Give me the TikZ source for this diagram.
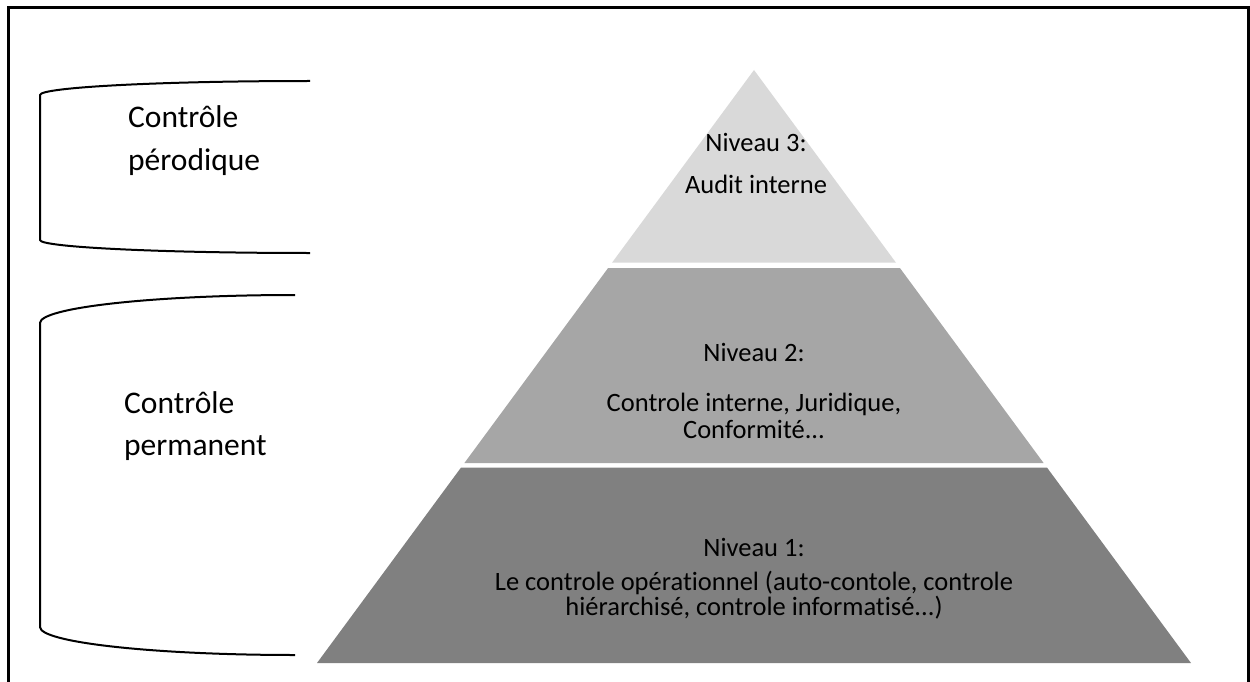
\documentclass[tikz,border=0pt]{standalone}
\usepackage{fontspec}
\setmainfont{Carlito}[Ligatures={NoCommon,NoRare}]
\definecolor{levelthree}{HTML}{D9D9D9}
\definecolor{leveltwo}{HTML}{A6A6A6}
\definecolor{levelone}{HTML}{808080}
\begin{document}
\begin{tikzpicture}[x=1pt,y=-1pt,
  sidelabel/.style={anchor=base west,inner sep=0pt,font=\fontsize{31.5}{38}\selectfont},
  leveltext/.style={anchor=base,inner sep=0pt,font=\fontsize{26.5}{32}\selectfont},
  bracketline/.style={line width=2pt,line join=round},
]
\useasboundingbox (0,0) rectangle (1250,682);
\clip (0,0) rectangle (1250,682);
% outer frame (open at the bottom edge of the page)
\draw[line width=3pt] (8.8,700) -- (8.8,7.2) -- (1248.2,7.2) -- (1248.2,700);

% pyramid levels
\fill[levelthree] (754,70) -- (896,262.7) -- (612,262.7) -- cycle;
\fill[leveltwo] (608.1,268) -- (899.9,268) -- (1043.6,463) -- (464.4,463) -- cycle;
\fill[levelone] (460.9,467.7) -- (1047.1,467.7) -- (1191,663) -- (317,663) -- cycle;

% level texts
\node[leveltext] (n3a) at (756,152) {Niveau 3:};
\node[leveltext] (n3b) at (756,193) {Audit interne};
\node[leveltext] (n2a) at (754,361) {Niveau 2:};
\node[leveltext] (n2b) at (754,411) {Controle interne, Juridique,};
\node[leveltext] (n2c) at (754,438) {Conformité...};
\node[leveltext] (n1a) at (754,556) {Niveau 1:};
\node[leveltext] (n1b) at (754,590) {Le controle opérationnel (auto-contole, controle};
\node[leveltext] (n1c) at (754,615) {hiérarchisé, controle informatisé...)};

% side brackets (y axis points down, so the angles run the other way)
\draw[bracketline] (310,81) arc[start angle=270,end angle=180,x radius=270,y radius=14]
  -- (40,240) arc[start angle=180,end angle=90,x radius=270,y radius=13];
\draw[bracketline] (295,295) arc[start angle=270,end angle=180,x radius=255,y radius=28]
  -- (40,627) arc[start angle=180,end angle=90,x radius=255,y radius=28];

% side labels
\node[sidelabel] (pa) at (128,128) {Contrôle};
\node[sidelabel] (pb) at (128,170) {pérodique};
\node[sidelabel] (ca) at (124,413) {Contrôle};
\node[sidelabel] (cb) at (124,455) {permanent};
\end{tikzpicture}
\end{document}
